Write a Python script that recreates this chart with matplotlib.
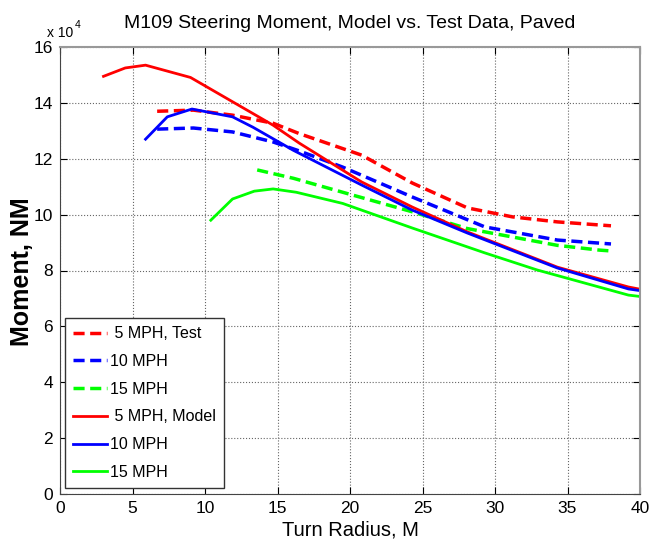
import matplotlib.pyplot as plt

# turn radius (M) and moment (x 1e4 NM)
test5_r = [6.7, 9.2, 11.9, 14.7, 16.5, 20.8, 24.3, 28.1, 31.2, 34.3, 37.2, 38.0]
test5_m = [13.70, 13.74, 13.56, 13.27, 12.90, 12.13, 11.13, 10.24, 9.92, 9.74, 9.63, 9.60]

test10_r = [6.7, 9.2, 11.9, 14.7, 16.5, 19.5, 24.3, 29.3, 34.3, 37.2, 38.0]
test10_m = [13.06, 13.10, 12.96, 12.60, 12.28, 11.70, 10.63, 9.56, 9.09, 8.98, 8.95]

test15_r = [13.6, 16.1, 19.5, 24.3, 28.1, 34.3, 37.2, 38.0]
test15_m = [11.60, 11.30, 10.80, 10.10, 9.50, 8.90, 8.73, 8.70]

model5_r = [3.0, 4.5, 5.9, 9.0, 11.7, 14.7, 16.5, 20.8, 24.3, 28.1, 34.3, 39.2, 40.0]
model5_m = [14.95, 15.25, 15.35, 14.91, 14.10, 13.20, 12.56, 11.17, 10.27, 9.38, 8.12, 7.41, 7.33]

model10_r = [5.9, 7.4, 9.1, 11.9, 13.3, 16.1, 20.8, 24.3, 28.1, 34.3, 39.2, 40.0]
model10_m = [12.70, 13.50, 13.78, 13.50, 13.13, 12.30, 11.06, 10.16, 9.34, 8.09, 7.34, 7.28]

model15_r = [10.4, 11.9, 13.4, 14.7, 16.3, 19.5, 24.3, 29.3, 32.9, 39.2, 40.0]
model15_m = [9.80, 10.56, 10.84, 10.92, 10.80, 10.40, 9.52, 8.63, 8.02, 7.12, 7.07]

x_ticks = [0, 5, 10, 15, 20, 25, 30, 35, 40]
y_ticks = [0, 2, 4, 6, 8, 10, 12, 14, 16]

plt.rcParams['font.family'] = ['Liberation Sans', 'DejaVu Sans']

fig = plt.figure(figsize=(6.5, 5.52), dpi=100)
ax = fig.add_axes([60 / 650, 1 - 494 / 552, 580 / 650, 447 / 552])

dash = (3.2, 1.6)
ax.plot(test5_r, test5_m, color='#ff0000', lw=2.5, dashes=dash, label=' 5 MPH, Test')
ax.plot(test10_r, test10_m, color='#0000ff', lw=2.5, dashes=dash, label='10 MPH')
ax.plot(test15_r, test15_m, color='#00ff00', lw=2.5, dashes=dash, label='15 MPH')
ax.plot(model5_r, model5_m, color='#ff0000', lw=2, label=' 5 MPH, Model')
ax.plot(model10_r, model10_m, color='#0000ff', lw=2, label='10 MPH')
ax.plot(model15_r, model15_m, color='#00ff00', lw=2, label='15 MPH')

ax.set_xlim(0, 40)
ax.set_ylim(0, 16)
ax.set_xticks(x_ticks)
ax.set_yticks(y_ticks)
ax.tick_params(direction='in', top=True, right=True, labelsize=12.5, length=5, pad=5)
ax.grid(True, linestyle=':', color='#666666', lw=0.8)
for side in ['left', 'bottom']:
    ax.spines[side].set_color('#444444')
for side in ['top', 'right']:
    ax.spines[side].set_color('#999999')
    ax.spines[side].set_linewidth(1.5)

ax.set_title('M109 Steering Moment, Model vs. Test Data, Paved', fontsize=14, pad=14)
ax.set_xlabel('Turn Radius, M', fontsize=14.5, labelpad=3)
ax.set_ylabel('Moment, NM', fontsize=18, fontweight='bold')
ax.yaxis.set_label_coords(-0.045, 0.497)

# MATLAB-style exponent label above the y axis
ax.text(-0.022, 1.0157, 'x 10', transform=ax.transAxes, fontsize=10, ha='left', va='bottom')
ax.text(0.026, 1.038, '4', transform=ax.transAxes, fontsize=7.5, ha='left', va='bottom')

leg = ax.legend(loc='lower left', bbox_to_anchor=(0.0086, 0.0134), borderaxespad=0,
                fontsize=11.5, frameon=True, fancybox=False, edgecolor='#333333',
                framealpha=1, handlelength=2.1, handletextpad=0.2, labelspacing=0.8,
                borderpad=0.5)
leg.get_frame().set_linewidth(1)

fig.savefig('out.png', dpi=100)
